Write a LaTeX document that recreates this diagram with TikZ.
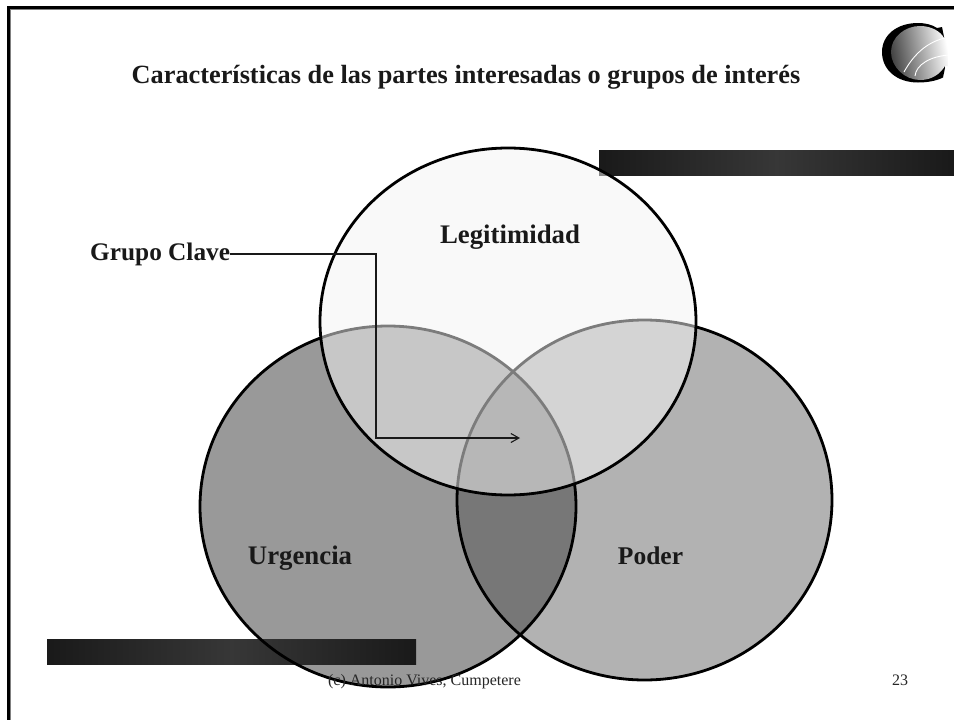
\documentclass[tikz,border=0pt]{standalone}
\usepackage{fontspec}
\setmainfont{Liberation Serif}
\usetikzlibrary{arrows.meta}
\definecolor{barend}{gray}{0.10}
\definecolor{barmid}{gray}{0.215}
\definecolor{urg}{gray}{0.60}
\definecolor{pod}{gray}{0.70}
\definecolor{both}{gray}{0.467}
\definecolor{leg}{gray}{0.96}
\tikzset{
  x=1pt,y=-1pt,
  ring/.style={draw=black,line width=2.8pt},
  label/.style={font=\fontsize{26}{28}\selectfont\bfseries,inner sep=0pt,text=black!90},
  small/.style={font=\fontsize{16}{18}\selectfont,inner sep=0pt,text=black!85},
  barfill/.style={left color=barend,right color=barend,middle color=barmid,draw=none},
  conn/.style={draw=black!90,line width=1.3pt}
}
\begin{document}
\begin{tikzpicture}
\useasboundingbox (0,0) rectangle (954,720);
\fill[white] (0,0) rectangle (954,720);
% slide frame
\draw[gray,line width=4pt] (8.5,720) -- (8.5,8) -- (954,8);
\draw[black,line width=2.8pt] (8.2,720) -- (8.2,7.7) -- (954,7.7);
% circles
\fill[urg] (388,506.5) ellipse [x radius=188,y radius=180.5];
\fill[pod] (644.5,500) ellipse [x radius=187.5,y radius=180];
\begin{scope}
  \clip (388,506.5) ellipse [x radius=188,y radius=180.5];
  \fill[both] (644.5,500) ellipse [x radius=187.5,y radius=180];
\end{scope}
% bars
\shade[barfill] (47,639) rectangle (416,664);
\shade[barfill] (599,150) rectangle (954,175);
% outlines of the two lower circles
\draw[ring] (388,506.5) ellipse [x radius=188,y radius=180.5];
\draw[ring] (644.5,500) ellipse [x radius=187.5,y radius=180];
% upper translucent circle
\fill[leg,fill opacity=.51] (508,321.5) ellipse [x radius=188,y radius=173.5];
\draw[ring] (508,321.5) ellipse [x radius=188,y radius=173.5];
% logo
\fill[black] (942,27) -- (937,28) .. controls (932,24.5) and (925,23) .. (918,23)
      .. controls (897,23) and (882,35) .. (882,52)
      .. controls (882,70) and (897,82.5) .. (918,82.5)
      .. controls (927,82.5) and (936,81) .. (943,77.5)
      -- (945,68) -- (944,37) -- cycle;
\begin{scope}
  \clip (891,52) .. controls (891,37) and (905,26) .. (920,26)
        .. controls (932,26) and (941,32) .. (944,38) -- (954,38) -- (954,66) -- (945,66)
        .. controls (940,74) and (932,80) .. (920,80)
        .. controls (905,80) and (891,67) .. (891,52) -- cycle;
  \shade[left color=black!82,right color=white,shading angle=100] (885,22) rectangle (948,85);
  \fill[white] (948,22) rectangle (954,85);
  \draw[white,line width=.9pt] (904,72) .. controls (915,52) and (930,40) .. (950,37);
  \draw[white,line width=.9pt] (915,76) .. controls (916,65) and (930,56) .. (950,55);
\end{scope}
% texts
\node[label,anchor=base] (title) at (466,83) {\fontsize{26.3}{28}\selectfont Características de las partes interesadas o grupos de interés};
\node[label,anchor=base] (legit) at (510,243) {\fontsize{26.8}{28}\selectfont Legitimidad};
\node[label,anchor=base west] (grupo) at (90,260) {\fontsize{25.3}{28}\selectfont Grupo Clave};
\node[label,anchor=base] (urgt) at (300,564) {\fontsize{26.8}{28}\selectfont Urgencia};
\node[label,anchor=base] (podt) at (650.5,564) {\fontsize{25.5}{28}\selectfont Poder};
\node[small,anchor=base] (foot) at (424.5,685) {(c) Antonio Vives, Cumpetere};
\node[small,anchor=base] (num) at (900,685) {23};
% connector
\coordinate (target) at (520,438);
\draw[conn,-{Straight Barb[length=8pt,width=9pt,line width=1.1pt]}] (grupo.east |- 0,254) -- (376,254) -- (376,438) -- (target);
\end{tikzpicture}
\end{document}
